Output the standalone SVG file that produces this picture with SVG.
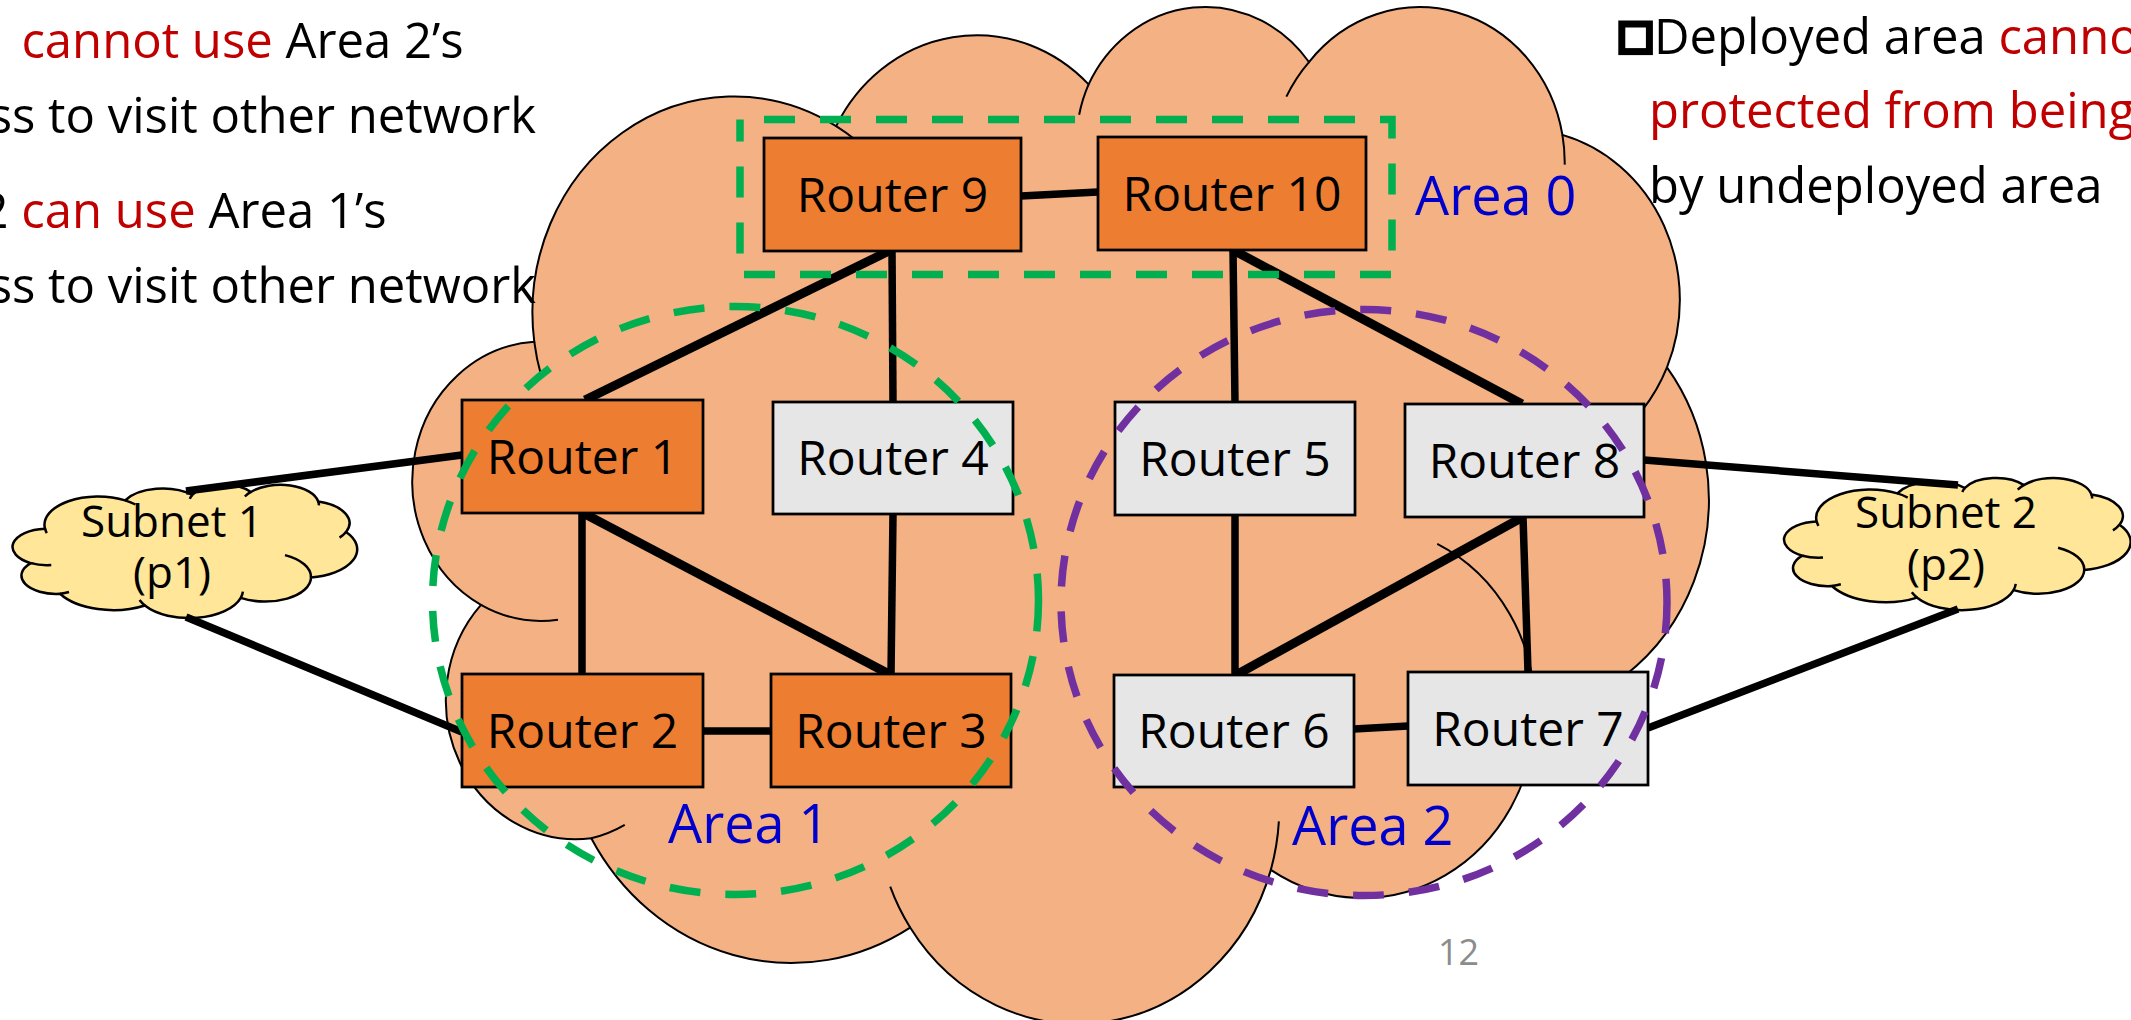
<svg xmlns="http://www.w3.org/2000/svg" width="2131" height="1020" viewBox="0 0 2131 1020">
  <style>
    text { font-family: "Open Sans", "Noto Sans", "DejaVu Sans", sans-serif; }
    .note { font-size: 49px; fill: #000; }
    .red { fill: #C00000; }
    .area { font-size: 54px; fill: #0000CC; }
    .lbl { font-size: 48px; text-anchor: middle; fill: #000; }
    .sub { font-size: 44px; text-anchor: middle; fill: #000; }
    .box { stroke: #000; stroke-width: 2.75; }
    .on { fill: #ED7D31; }
    .off { fill: #E7E6E6; }
    .ln { stroke: #000; stroke-width: 7.5; fill: none; }
    .lnb { stroke: #000; stroke-width: 9; fill: none; }
    .zone { fill: none; stroke-width: 7.5; stroke-dasharray: 31 25; }
  </style>
  <defs>
    <!-- preset cloud outline, drawn in a 43200 x 43200 unit box -->
    <path id="cloud" vector-effect="non-scaling-stroke" d="M3900,14370 A6753,9190 0 0 1 14006,5203 A5333,7267 0 0 1 22458,3431 A4365,5945 0 0 1 29835,2479 A4857,6595 0 0 1 38320,5574 A5333,7273 0 0 1 41820,15458 A6775,9220 0 0 1 37407,30202 A5785,7867 0 0 1 28558,36812 A6752,9215 0 0 1 16483,39264 A7720,10543 0 0 1 5807,35469 A4360,5918 0 0 1 2115,25549 A4345,5945 0 0 1 3900,14370 Z"/>
    <!-- inner crease strokes of the same cloud -->
    <path id="cloud-creases" fill="none" vector-effect="non-scaling-stroke" d="M4127,15789 A6753,9190 0 0 1 3900,14370 M14006,5203 A6753,9190 0 0 1 15304,6549 M22141,4720 A4365,5945 0 0 1 22458,3431 M29078,3952 A4857,6595 0 0 1 29835,2479 M38320,5574 A4857,6595 0 0 1 38396,6839 M41820,15458 A5333,7273 0 0 1 41000,17266 M34129,22954 A5785,7867 0 0 1 37407,30202 M28827,34751 A6752,9215 0 0 1 28558,36812 M16483,39264 A6752,9215 0 0 1 15816,37526 M6928,34899 A4360,5918 0 0 1 5807,35469 M4693,26177 A4345,5945 0 0 1 2115,25549"/>
  </defs>

  <rect width="2131" height="1020" fill="#fff"/>

  <!-- backbone network cloud -->
  <g id="network-cloud" transform="translate(417.8 3.7) scale(0.02987 0.02353)">
    <use href="#cloud" fill="#F4B183" stroke="#000" stroke-width="2"/>
    <use href="#cloud-creases" stroke="#000" stroke-width="2"/>
  </g>

  <!-- subnets -->
  <g id="subnet1">
    <g transform="translate(14 484.3) scale(0.00794 0.003086)">
      <use href="#cloud" fill="#FFE699" stroke="#000" stroke-width="2.5"/>
      <use href="#cloud-creases" stroke="#000" stroke-width="2.5"/>
    </g>
    <text class="sub" x="172" y="536.7">Subnet 1</text>
    <text class="sub" x="172" y="588.4">(p1)</text>
  </g>
  <g id="subnet2">
    <g transform="translate(1785.5 477.5) scale(0.007986 0.00306)">
      <use href="#cloud" fill="#FFE699" stroke="#000" stroke-width="2.5"/>
      <use href="#cloud-creases" stroke="#000" stroke-width="2.5"/>
    </g>
    <text class="sub" x="1946" y="528.3">Subnet 2</text>
    <text class="sub" x="1946" y="580">(p2)</text>
  </g>

  <!-- links -->
  <g id="connectors">
    <line class="ln" x1="1021" y1="196" x2="1098" y2="192"/>
    <line class="lnb" x1="889" y1="251" x2="585" y2="400"/>
    <line class="ln" x1="892" y1="251" x2="893" y2="402"/>
    <line class="ln" x1="1233" y1="250" x2="1235" y2="402"/>
    <line class="lnb" x1="1233" y1="250" x2="1522" y2="404"/>
    <line class="ln" x1="462" y1="455" x2="186" y2="491"/>
    <line class="ln" x1="186" y1="617" x2="462" y2="732"/>
    <line class="ln" x1="582" y1="513" x2="582" y2="674"/>
    <line class="lnb" x1="583" y1="513" x2="889" y2="674"/>
    <line class="ln" x1="893" y1="514" x2="891" y2="674"/>
    <line class="ln" x1="703" y1="731" x2="771" y2="731"/>
    <line class="ln" x1="1235" y1="515" x2="1235" y2="675"/>
    <line class="lnb" x1="1523" y1="517" x2="1236" y2="675"/>
    <line class="ln" x1="1523" y1="517" x2="1528" y2="672"/>
    <line class="ln" x1="1354" y1="729" x2="1408" y2="726"/>
    <line class="ln" x1="1644" y1="460" x2="1958" y2="485"/>
    <line class="ln" x1="1648" y1="728" x2="1958" y2="609"/>
  </g>

  <!-- routers -->
  <g id="router9"><rect class="box on" x="764" y="138" width="257" height="113"/><text class="lbl" x="892.5" y="211.5">Router 9</text></g>
  <g id="router10"><rect class="box on" x="1098" y="137" width="268" height="113"/><text class="lbl" x="1232" y="210.5">Router 10</text></g>
  <g id="router1"><rect class="box on" x="462" y="400" width="241" height="113"/><text class="lbl" x="582.5" y="473.5">Router 1</text></g>
  <g id="router4"><rect class="box off" x="773" y="402" width="240" height="112"/><text class="lbl" x="893" y="475">Router 4</text></g>
  <g id="router2"><rect class="box on" x="462" y="674" width="241" height="113"/><text class="lbl" x="582.5" y="747.5">Router 2</text></g>
  <g id="router3"><rect class="box on" x="771" y="674" width="240" height="113"/><text class="lbl" x="891" y="747.5">Router 3</text></g>
  <g id="router5"><rect class="box off" x="1115" y="402" width="240" height="113"/><text class="lbl" x="1235" y="475.5">Router 5</text></g>
  <g id="router8"><rect class="box off" x="1405" y="404" width="239" height="113"/><text class="lbl" x="1524.5" y="477.5">Router 8</text></g>
  <g id="router6"><rect class="box off" x="1114" y="675" width="240" height="112"/><text class="lbl" x="1234" y="748">Router 6</text></g>
  <g id="router7"><rect class="box off" x="1408" y="672" width="240" height="113"/><text class="lbl" x="1528" y="745.5">Router 7</text></g>

  <!-- OSPF areas -->
  <g id="area0">
    <rect class="zone" x="740" y="119.5" width="652" height="155" stroke="#00B050" stroke-dashoffset="32"/>
    <text class="area" x="1415" y="215">Area 0</text>
  </g>
  <g id="area1">
    <ellipse class="zone" cx="735.5" cy="600.5" rx="303" ry="294" stroke="#00B050"/>
    <text class="area" x="668" y="843">Area 1</text>
  </g>
  <g id="area2">
    <ellipse class="zone" cx="1364" cy="602.5" rx="303" ry="293" stroke="#7030A0"/>
    <text class="area" x="1292" y="845">Area 2</text>
  </g>

  <!-- side notes -->
  <g id="notes-left">
    <text class="note" x="21.4" y="58.3"><tspan class="red">cannot use</tspan> Area 2’s</text>
    <text class="note" x="536" y="132.7" text-anchor="end">ss to visit other network</text>
    <text class="note" x="-19.4" y="228.3">2 <tspan class="red">can use</tspan> Area 1’s</text>
    <text class="note" x="536" y="303" text-anchor="end">ss to visit other network</text>
  </g>
  <g id="notes-right">
    <rect x="1621.8" y="24" width="27.6" height="27.6" fill="#fff" stroke="#000" stroke-width="7"/>
    <text class="note" x="1654" y="54">Deployed area <tspan class="red">cannot</tspan></text>
    <text class="note red" x="1649" y="128">protected from being</text>
    <text class="note" x="1649" y="203">by undeployed area</text>
  </g>

  <text x="1438" y="965" font-size="36" fill="#8C8C8C">12</text>
</svg>
